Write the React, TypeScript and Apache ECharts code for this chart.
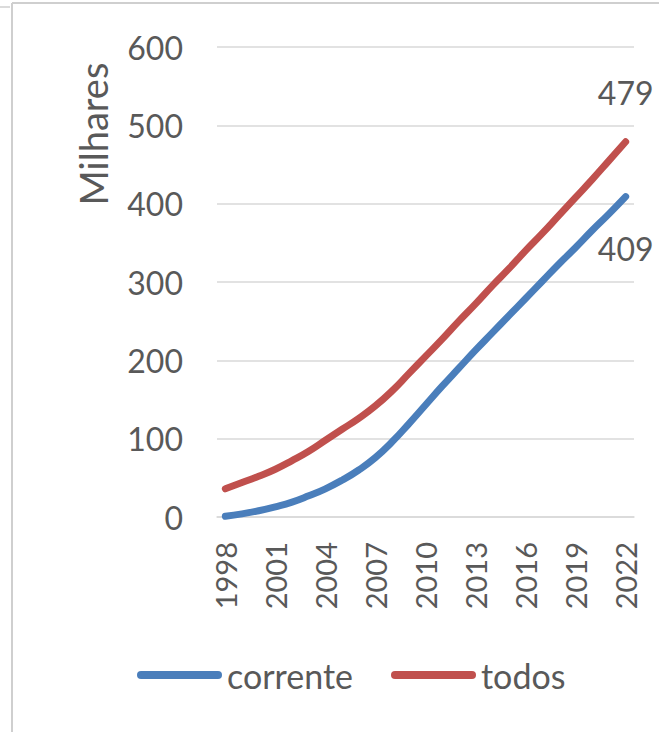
import React, { useEffect, useRef } from "react";
import * as echarts from "echarts";

const years = [
  "1998", "1999", "2000", "2001", "2002", "2003", "2004", "2005", "2006", "2007",
  "2008", "2009", "2010", "2011", "2012", "2013", "2014", "2015", "2016", "2017",
  "2018", "2019", "2020", "2021", "2022",
];
const corrente = [1, 4, 8, 13, 19, 27, 36, 47, 60, 76, 96, 119, 143, 167, 190, 213, 235, 257, 279, 301, 323, 344, 366, 387, 409];
const todos = [36, 44, 52, 61, 72, 84, 98, 112, 126, 142, 161, 183, 205, 227, 250, 272, 295, 317, 340, 362, 385, 408, 431, 455, 479];
const seriesNames = ["corrente", "todos"];
const yAxisTitle = "Milhares";

const FONT = "Lato";
const TEXT = "#595959";
const GRID = "#d9d9d9";
const BLUE = "#4a7ebb";
const RED = "#c0504d";

function withEndLabel(values: number[], position: "top" | "bottom", distance: number) {
  return values.map((v, i) =>
    i === values.length - 1
      ? {
          value: v,
          label: {
            show: true,
            position,
            distance,
            formatter: "{c}",
            fontSize: 32,
            fontFamily: FONT,
            color: TEXT,
          },
        }
      : v
  );
}

export default function App() {
  const ref = useRef<HTMLDivElement>(null);
  useEffect(() => {
    if (!ref.current) return;
    const chart = echarts.init(ref.current, null, { renderer: "svg" });
    const capsule = "path://M4 0H81A4 4 0 0 1 81 8H4A4 4 0 0 1 4 0Z";
    const lineCommon = {
      type: "line",
      smooth: true,
      showSymbol: true,
      showAllSymbol: true,
      symbol: "circle",
      symbolSize: 0,
    };
    chart.setOption({
      animation: false,
      backgroundColor: "#ffffff",
      grid: { left: 217, right: 25, top: 47, bottom: 215, containLabel: false },
      legend: {
        data: seriesNames,
        left: 137,
        top: 658,
        padding: 0,
        itemWidth: 85,
        itemHeight: 8,
        itemGap: 38,
        icon: capsule,
        textStyle: { fontSize: 34, fontFamily: FONT, color: TEXT },
      },
      xAxis: {
        type: "category",
        data: years,
        boundaryGap: true,
        axisLine: { show: true, lineStyle: { color: GRID, width: 1.5 } },
        axisTick: { show: false },
        axisLabel: {
          interval: 2,
          rotate: 90,
          margin: 25,
          fontSize: 29,
          fontFamily: FONT,
          color: TEXT,
        },
      },
      yAxis: {
        type: "value",
        min: 0,
        max: 600,
        interval: 100,
        axisLine: { show: false },
        axisTick: { show: false },
        axisLabel: { margin: 34, fontSize: 32, fontFamily: FONT, color: TEXT },
        splitLine: { lineStyle: { color: GRID, width: 1.5 } },
      },
      graphic: [
        { type: "line", shape: { x1: 12, y1: 3, x2: 659, y2: 3 }, style: { stroke: "#cfcfcf", lineWidth: 2 } },
        { type: "line", shape: { x1: 12, y1: 3, x2: 12, y2: 732 }, style: { stroke: "#cfcfcf", lineWidth: 2 } },
        { type: "line", shape: { x1: 0, y1: 7, x2: 10, y2: 7 }, style: { stroke: "#cfcfcf", lineWidth: 1.5 } },
        {
          type: "text",
          x: 93,
          y: 134,
          rotation: Math.PI / 2,
          style: {
            text: yAxisTitle,
            fontSize: 38,
            fontFamily: FONT,
            fill: TEXT,
            align: "center",
            verticalAlign: "middle",
          },
        },
      ],
      series: [
        {
          ...lineCommon,
          name: seriesNames[0],
          data: withEndLabel(corrente, "bottom", 36),
          color: BLUE,
          itemStyle: { color: BLUE },
          lineStyle: { color: BLUE, width: 7, cap: "round", join: "round" },
        },
        {
          ...lineCommon,
          name: seriesNames[1],
          data: withEndLabel(todos, "top", 33),
          color: RED,
          itemStyle: { color: RED },
          lineStyle: { color: RED, width: 7, cap: "round", join: "round" },
        },
      ],
    });
    return () => chart.dispose();
  }, []);
  return (
    <div
      ref={ref}
      style={{ position: "absolute", left: 0, top: 0, width: 659, height: 732 }}
    />
  );
}
